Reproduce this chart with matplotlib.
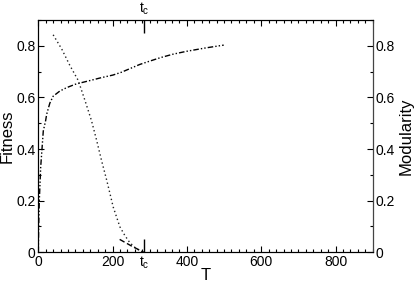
import numpy as np
import matplotlib
matplotlib.use('Agg')
import matplotlib.pyplot as plt
from matplotlib.ticker import MultipleLocator

plt.rcParams['font.family'] = ['Liberation Sans', 'DejaVu Sans']
plt.rcParams['mathtext.fontset'] = 'custom'
plt.rcParams['mathtext.rm'] = 'Liberation Sans'
plt.rcParams['mathtext.it'] = 'Liberation Sans'

# fitness curve (dash-dot-dot)
fit_T = [0, 1, 2.7, 4.6, 6.4, 10.9, 13.4, 19.8, 22.5, 31, 40, 58, 76, 99,
         112, 140, 170, 201, 224, 255, 273, 300, 330, 363, 399, 450, 499]
fit_y = [0, 0.1, 0.2, 0.267, 0.33, 0.42, 0.47, 0.511, 0.535, 0.578, 0.605,
         0.625, 0.638, 0.651, 0.656, 0.666, 0.677, 0.687, 0.698, 0.717,
         0.728, 0.741, 0.755, 0.768, 0.779, 0.792, 0.803]

# modularity curve (dotted)
mod_T = [40, 63, 85, 107.5, 125.5, 143, 157, 170, 184, 195, 201.5, 219.5,
         233, 246, 262, 275, 284]
mod_y = [0.843, 0.788, 0.724, 0.666, 0.589, 0.511, 0.434, 0.357, 0.28,
         0.215, 0.176, 0.099, 0.065, 0.038, 0.016, 0.005, 0.0]

# short dashed segment near t_c
dash_T = [219, 250, 284]
dash_y = [0.05, 0.025, 0.0]

t_c = 285
x_major = [0, 200, 400, 600, 800]
x_labels = ['0', '200', '400', '600', '800']
y_major = [0, 0.2, 0.4, 0.6, 0.8]
y_labels = ['0', '0.2', '0.4', '0.6', '0.8']

fig = plt.figure(figsize=(4.15, 2.83), dpi=100)
ax = fig.add_axes([0.0923, 0.1085, 0.8057, 0.8205])

ax.plot(fit_T, fit_y, color='black', lw=1.0,
        linestyle=(0, (4, 1.5, 1, 1.5, 1, 1.5)))
ax.plot(mod_T, mod_y, color='#222222', lw=1.0, linestyle=(0, (1, 2)))
ax.plot(dash_T, dash_y, color='black', lw=1.0, linestyle=(0, (4, 2)))

ax.set_xlim(0, 900)
ax.set_ylim(0, 0.9)
ax.set_xticks(x_major)
ax.set_xticklabels(x_labels)
ax.set_yticks(y_major)
ax.set_yticklabels(y_labels)
ax.xaxis.set_minor_locator(MultipleLocator(20))
ax.yaxis.set_minor_locator(MultipleLocator(0.1))
ax.tick_params(which='both', direction='in', top=True, labelsize=10,
               width=0.8, pad=2)
ax.tick_params(which='major', length=4.5)
ax.tick_params(which='minor', length=2.5)
ax.set_xlabel('T', fontsize=12)
ax.xaxis.set_label_coords(0.5, -0.068)
ax.set_ylabel('Fitness', fontsize=12)
ax.yaxis.set_label_coords(-0.072, 0.5)

ax2 = ax.twinx()
ax2.set_ylim(0, 0.9)
ax2.set_yticks(y_major)
ax2.set_yticklabels(y_labels)
ax2.yaxis.set_minor_locator(MultipleLocator(0.1))
ax2.tick_params(which='both', direction='in', labelsize=10, width=0.8, pad=2)
ax2.tick_params(which='major', length=4.5)
ax2.tick_params(which='minor', length=2.5)
ax2.set_ylabel('Modularity', fontsize=12)
ax2.yaxis.set_label_coords(1.077, 0.5)
ax2.spines['right'].set_color('#444444')

# long t_c ticks top and bottom
for side in ['top', 'bottom']:
    sec = ax.secondary_xaxis(side)
    sec.set_xticks([t_c])
    sec.set_xticklabels([r'$\mathrm{t_c}$'])
    sec.tick_params(direction='in', length=9.5, width=1.0, labelsize=10, pad=2)
    sec.spines[side].set_visible(False)

for s in ax.spines.values():
    s.set_linewidth(0.8)

fig.savefig('out.png', dpi=100)
